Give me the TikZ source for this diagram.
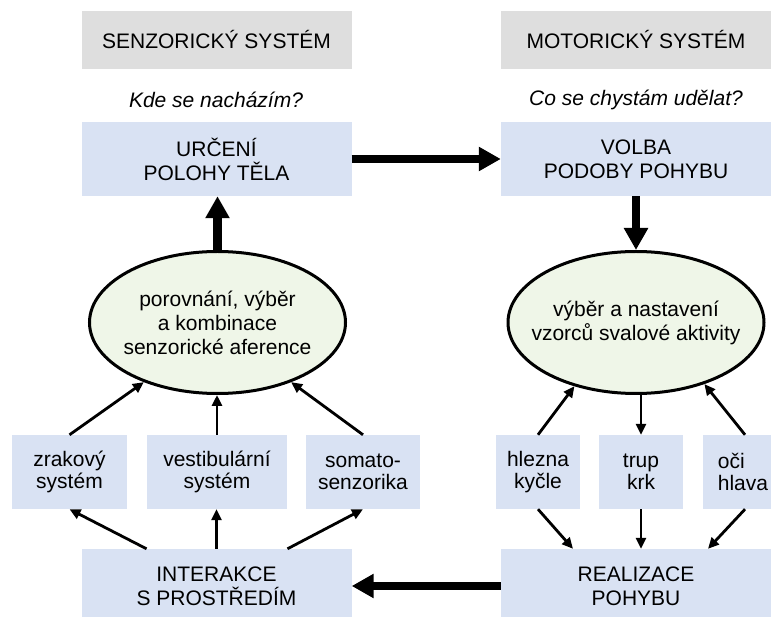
\documentclass[tikz,border=0pt]{standalone}
\usepackage{fontspec}
\setmainfont{Liberation Sans}
\usetikzlibrary{arrows.meta, shapes.geometric}
\definecolor{boxblue}{HTML}{D9E2F3}
\definecolor{boxgray}{HTML}{DEDEDE}
\definecolor{blobgreen}{HTML}{EFF6E8}

\begin{document}
\begin{tikzpicture}[x=1pt, y=-1pt,
  every node/.style={font=\fontsize{21}{24}\selectfont, align=center, inner sep=0pt},
  headbox/.style={fill=boxgray, minimum width=270pt, minimum height=58pt},
  bigbox/.style={fill=boxblue, minimum width=270pt, minimum height=74pt},
  smallbox/.style={fill=boxblue, minimum height=74pt, font=\fontsize{21}{22}\selectfont},
  blob/.style={ellipse, draw, line width=3pt, fill=blobgreen, inner xsep=-20pt,
    minimum width=256pt, minimum height=142pt},
  mainflow/.style={line width=8.5pt, -{Triangle[length=22pt, width=23pt]}},
  feed/.style={line width=2.8pt, -{Triangle[length=11pt, width=10pt]}}]
\useasboundingbox (0,0) rectangle (771,617);
%
\node[headbox] (senz) at (216.5,40) {SENZORICKÝ SYSTÉM};
\node[headbox] (motor) at (636,40) {MOTORICKÝ SYSTÉM};
\node (kde) at (216,100) {\itshape Kde se nacházím?};
\node (co) at (636,100) {\itshape Co se chystám udělat?};
\node[bigbox] (urceni) at (216.5,159) {URČENÍ\\POLOHY TĚLA};
\node[bigbox] (volba) at (636,159) {VOLBA\\PODOBY POHYBU};
\node[blob] (porov) at (217.5,322.5) {porovnání, výběr\\a kombinace\\senzorické aference};
\node[blob] (vyber) at (636,322.5) {výběr a nastavení\\vzorců svalové aktivity};
%
\node[smallbox, minimum width=115pt] (zrak) at (69.5,472) {zrakový\\systém};
\node[smallbox, minimum width=140pt] (vest) at (217,472) {vestibulární\\systém};
\node[smallbox, minimum width=114pt] (somato) at (363,472) {somato-\\senzorika};
\node[smallbox, minimum width=84pt] (hlezna) at (538,472) {hlezna\\kyčle};
\node[smallbox, minimum width=84pt] (trup) at (641,472) {trup\\krk};
\node[smallbox, minimum width=80pt, align=left] (oci) at (743,472) {oči\\hlava};
%
\node[bigbox] (inter) at (216.5,586) {INTERAKCE\\S PROSTŘEDÍM};
\node[bigbox] (real) at (636,586) {REALIZACE\\POHYBU};
%
\draw[mainflow] (porov.north) -- (porov.north |- urceni.south);
\draw[mainflow] (urceni) -- (volba);
\draw[mainflow] (volba.south) -- (vyber.north);
\draw[mainflow] (real) -- (inter);
%
\draw[feed] (zrak.north) -- (porov.219);
\draw[feed] (vest.north) -- (vest.north |- porov.south);
\draw[feed] (somato.north) -- (porov.321);
\draw[feed] ([xshift=-70pt]inter.north) -- (zrak.south);
\draw[feed] (inter.north) -- (inter.north |- vest.south);
\draw[feed] ([xshift=71pt]inter.north) -- (somato.south);
%
\draw[feed] (hlezna.north) -- (vyber.226);
\draw[feed] (vyber.south -| trup.north) -- (trup.north);
\draw[feed] ([xshift=2pt]oci.north) -- (vyber.318);
\draw[feed] (hlezna.south) -- ([xshift=-63pt]real.north);
\draw[feed] (trup.south) -- (trup.south |- real.north);
\draw[feed] ([xshift=2pt]oci.south) -- ([xshift=72pt]real.north);
\end{tikzpicture}
\end{document}
